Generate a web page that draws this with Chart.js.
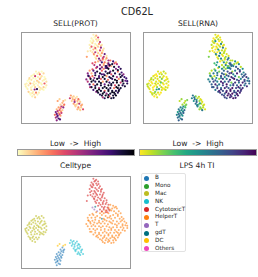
<!DOCTYPE html>
<html><head><meta charset="utf-8">
<script src="https://cdn.jsdelivr.net/npm/chart.js@4"></script>
<style>
body{margin:0;background:#fff;width:258px;height:277px;position:relative;overflow:hidden;font-family:"DejaVu Sans",sans-serif;color:#262626}
.t{position:absolute;transform:translate(-50%,-50%);white-space:pre;line-height:1}
.p{position:absolute}
.cb{position:absolute;box-sizing:border-box;border:1px solid #9a9a9a;height:7px}
#leg{position:absolute;left:141px;top:173px;width:45px;height:79px;box-sizing:border-box;border:1px solid #e2e2e2;border-radius:2px}
.li{position:absolute;left:0;font-size:5.7px;line-height:1;white-space:pre}
.dot{position:absolute;width:5px;height:5px;border-radius:50%}
</style></head><body>
<div class="t" style="left:137px;top:12px;font-size:9.7px">CD62L</div>
<div class="t" style="left:75.5px;top:23.5px;font-size:7.6px">SELL(PROT)</div>
<div class="t" style="left:198px;top:23.5px;font-size:7.6px">SELL(RNA)</div>
<div class="p" style="left:17px;top:28px;width:118px;height:100px"><canvas id="c1"></canvas></div>
<div class="p" style="left:139px;top:28px;width:118px;height:100px"><canvas id="c2"></canvas></div>
<div class="t" style="left:75.5px;top:144px;font-size:7.6px">Low  -&gt;  High</div>
<div class="t" style="left:198px;top:144px;font-size:7.6px">Low  -&gt;  High</div>
<div class="cb" id="cb1" style="left:17px;top:149px;width:118px"></div>
<div class="cb" id="cb2" style="left:139px;top:149px;width:118px"></div>
<div class="t" style="left:75.5px;top:165.5px;font-size:7.6px">Celltype</div>
<div class="t" style="left:197px;top:165.5px;font-size:7.6px">LPS 4h TI</div>
<div class="p" style="left:17px;top:172px;width:118px;height:101px"><canvas id="c3"></canvas></div>
<div id="leg"></div>
<script>
// ---- data: UMAP coordinates [x, y, SELL protein, SELL RNA] per cell type ----
const cellTypes = ["B","Mono","Mac","NK","CytotoxicT","HelperT","T","gdT","DC","Others"];
const typeColors = ["#1f77b4","#2ca02c","#bcbd22","#17becf","#d62728","#ff7f0e","#9467bd","#00707f","#ffbf00","#ee46bc"];

const bPts = [
[44,77,.15,.1],[46,79,.3,.2],[42,79,.1,.15],[43,81,.5,.5],[40,82,.2,.55],[45,82,.6,.3],[38,84,.15,.6],[41,85,.35,.5],[44,85,.1,.65],[37,87,.65,.45],[40,88,.2,.6],[43,88,.45,.7],[36,90,.3,.55],[39,91,.75,.6],[42,91,.2,.5],[37,93,.55,.65],[40,94,.8,.55],[38,96,.6,.7],
[45,80,.1,.2],[42,83,.3,.55],[39,86,.5,.6],[42.5,86.5,.2,.5],[38,89,.7,.65],[41,89.5,.4,.55],[38.5,92,.6,.6],[41.5,95,.75,.7]
];
const monoPts = [];
const macPts = [
[16,43,.02,.05],[19,44,.05,0],[22,43,0,.1],[24,45,.08,.05],[14,46,.03,0],[20,46,.3,.1],
[11,48,.02,.05],[15,48,.45,0],[18,49,.03,.15],[22,48,.06,.05],[25,49,0,0],[9,50,.08,.1],[13,50,.02,.05],[20,51,.15,.2],[26,51,.03,.05],
[7,53,0,0],[11,52,.05,.1],[14,54,.02,.05],[17,53,.1,0],[23,53,.03,.1],[27,54,.06,.05],[6,56,.02,.05],[10,56,.2,0],[13,56,.03,.1],[16,56,0,.05],[19,55,.08,.25],[22,57,.02,0],[25,56,.35,.05],
[5,59,.03,.1],[8,58,.06,.05],[12,59,0,0],[15,60,.1,.15],[18,58,.02,.05],[21,61,.04,0],[24,60,.1,.05],[7,62,.02,.05],[11,63,.06,0],[17,62,.85,.55],[20,63,.03,.05],[24,63,0,.1],[27,58,.04,0],
[8,65,.1,.05],[13,65,.02,.2],[16,66,.25,.05],[19,66,.03,0],[10,68,0,.1],[14,68,.06,.05],[12,70,.03,0],[15,71,.1,.05],
[17.5,45.5,.02,.05],[12.5,47,0,0],[21,49.5,.05,0],[8.5,51.5,.03,.1],[15.5,51,0,.05],[24.5,52,.02,0],[18.5,54,.06,.05],[9,54.5,0,0],[4.5,57,.03,.1],[21,55.5,0,.05],[14,57.5,.04,0],[26,60.5,0,.05],[10.5,60.5,.02,0],[19.5,60,.05,.1],[6,60.5,0,.05],[22.5,62,.03,0],[14.5,62.5,.6,.45],[9.5,66.5,0,.05],[17.5,68,.02,0],[12,66.5,.05,.1]
];
const nkPts = [
[53,69,.2,.6],[56,70,.1,.2],[52,72,.45,.55],[55,73,.15,.65],[58,72,.1,.1],[61,73,.3,.05],[54,75,.1,.5],[57,76,.55,.7],[60,75,.15,.15],[63,76,.1,.05],[56,78,.2,.6],[59,79,.1,.3],[62,78,.5,.1],[65,79,.15,.05],[58,81,.1,.55],[61,82,.25,.2],[64,82,.1,.1],[66,84,.4,.05],[60,84,.15,.15],[63,85,.1,.6],
[54.5,71,.1,.6],[59.5,70.5,.05,.1],[57,74,.3,.5],[62,74,.05,.05],[60.5,77.5,.1,.45],[64,80,.2,.1],[57.5,79.5,.1,.6],[62,83.5,.05,.15]
];
const ctPts = [
[77,3,.03,.05],[80,4,.15,0],[78,6,0,.1],[82,6,.4,.05],[75,7,.03,0],[80,8,.08,.15],
[74,10,0,.05],[77,10,.05,.5],[81,10,.03,0],[84,11,.5,.1],[76,12,.08,.05],[79,13,.02,0],[83,13,.2,.55],[86,14,.05,.05],[73,14,.03,.1],
[75,16,.35,0],[78,16,.03,.05],[82,16,.1,.1],[85,17,.6,.6],[88,18,.05,.05],[77,19,.15,0],[80,19,.03,.45],[84,20,.4,.1],[87,20,.1,.05],[71,21,.05,.1],
[76,22,.06,.05],[79,22,.5,0],[82,23,.1,.5],[86,23,.2,.1],[89,24,.7,.05],[78,25,.04,.1],[81,26,.35,.6],[85,26,.1,0],[88,27,.5,.15],[91,26,.05,.05],[70,27,.2,.2],
[80,29,.1,.1],[83,29,.65,.55],[87,30,.25,.05],[90,30,.1,.65],[93,31,.55,.1],[82,32,.15,0],[86,33,.8,.5],[89,33,.3,.15],[92,34,.15,.7],
[84,36,.6,.1],[88,36,.2,.55],[91,37,.85,.2],[94,37,.45,.6],[86,38,.15,.05],
[79,5,.02,0],[76.5,8.5,0,.05],[82.5,8.5,.05,0],[75,11.5,0,.1],[80.5,14.5,.03,.05],[85,15,.1,0],[73.5,17.5,.02,.05],[79,17.5,.35,0],[86.5,21.5,.05,.1],[81,20.5,0,.05],[74,20.5,.05,0],[77.5,24,.25,.55],[84,24.5,.05,.05],[87,28.5,.4,.1],[79,27.5,.02,0],[91,28.5,.2,.6],[84.5,31,.5,.1],[88,34.5,.15,.05],[93,35.5,.6,.7],[90,39,.7,.5]
];
const htPts = [
[95,31,.3,.1],[98,32,.8,.5],[101,33,.2,.05],[93,34,.7,.6],[97,35,.9,.15],[102,35,.5,.55],
[90,37,.85,.2],[96,37,.15,.6],[99,38,.9,.7],[104,38,.7,.1],[80,39,.4,.05],[84,40,.8,.55],[88,40,.25,.15],[93,40,.95,.65],[101,40,.6,.8],[106,40,.85,.5],
[73,42,.2,.1],[77,42,.75,.5],[81,43,.9,.2],[86,42,.35,.65],[90,43,.85,.75],[95,43,.7,.15],[98,42,.95,.6],[103,43,.3,.85],[107,44,.8,.55],[71,45,.6,.15],[75,45,.15,.6],[84,45,.9,.7],[88,46,.7,.1],[92,45,.95,.8],[96,46,.4,.55],[100,45,.85,.9],[105,46,.9,.65],[109,46,.6,.75],
[72,48,.85,.55],[76,48,.3,.1],[79,47,.9,.65],[83,48,.75,.8],[87,49,.95,.5],[91,48,.2,.7],[94,49,.85,.9],[98,48,.9,.6],[102,49,.55,.2],[106,49,.95,.75],[110,49,.8,.85],[74,51,.9,.65],[78,50,.6,.5],[81,51,.95,.15],[85,51,.35,.8],[89,51,.9,.6],[97,51,.8,.95],[100,52,.95,.7],[104,51,.25,.55],[108,52,.9,.8],[111,53,.7,.6],
[71,54,.5,.6],[75,54,.95,.8],[79,54,.85,.55],[83,54,.9,.9],[87,54,.2,.65],[91,54,.95,.75],[94,55,.8,.2],[98,55,.9,.85],[102,55,.95,.6],[106,55,.45,.9],[109,56,.9,.7],[113,56,.85,.65],[73,57,.8,.7],[77,57,.3,.9],[81,57,.95,.6],[85,58,.9,.8],[89,57,.7,.95],[93,58,.95,.55],[96,58,.9,.8],[100,58,.4,.7],[104,58,.95,.9],[108,58,.85,.6],
[75,60,.9,.75],[79,61,.95,.85],[83,61,.5,.6],[87,61,.9,.9],[91,61,.95,.7],[95,61,.85,.95],[99,61,.3,.8],[103,61,.95,.65],[106,61,.9,.85],[77,63,.8,.6],[81,64,.95,.9],[85,64,.9,.75],[89,64,.35,.85],[93,64,.95,.95],[97,64,.9,.7],[101,64,.85,.9],[104,64,.95,.8],
[82,66,.9,.85],[87,67,.95,.7],[91,67,.6,.9],[95,67,.9,.95],[99,66,.95,.75],[103,66,.85,.9],[86,69,.9,.8],[90,69,.95,.95],[94,70,.4,.85],[98,69,.9,.7],[101,69,.95,.9],[89,72,.85,.75],[96,72,.9,.95],
[99.5,34,.4,.1],[94.5,36,.9,.6],[86,38.5,.6,.2],[91.5,39,.85,.55],[103,41.5,.9,.65],[79,44.5,.8,.6],[94,44.5,.95,.85],[107.5,47.5,.85,.7],[89,47,.9,.75],[73.5,49.5,.4,.15],[95.5,50,.9,.8],[83,50,.85,.6],[102,53,.95,.85],[77,52.5,.9,.7],[92.5,52,.3,.9],[112,50.5,.8,.6],[69.5,51.5,.6,.55],[85,55.5,.95,.9],[96,56.5,.9,.75],[110.5,59,.9,.85],[79,58.5,.85,.65],[101.5,60,.95,.9],[89,59.5,.95,.8],[73.5,60,.5,.7],[93,62.5,.9,.95],[83,62.5,.95,.85],[104.5,62.5,.85,.9],[97,65.5,.95,.8],[88.5,65.5,.9,.95],[80,65,.6,.7],[93,68.5,.95,.9],[84,68,.85,.75],[100,67.5,.9,.95],[92.5,71,.95,.85],[98.5,71.5,.9,.9],[87,71,.5,.8],[108,53.5,.95,.75],[113,53.5,.8,.7],[71.5,47.5,.7,.5],[76,40.5,.35,.2]
];
const tPts = [[78,36,.5,.4],[81,38,.6,.5],[76,34,.4,.3]];
const gdtPts = [[86,46,.8,.7],[79,33,.3,.5]];
const dcPts = [[41,73,.1,.15],[45,75,.15,.1],[47,74,.05,.2],[39,75,.2,.1]];
const othersPts = [[92,39,.5,.5]];
const groups = [bPts, monoPts, macPts, nkPts, ctPts, htPts, tPts, gdtPts, dcPts, othersPts];

// ---- colormaps (style) ----
const magmaR = ["#fcfdbf","#fecf92","#fe9f6d","#f7705c","#de4968","#b73779","#8c2981","#641a80","#3b0f70","#140e36","#000004"];
const viridisR = ["#fde725","#bddf26","#7ad151","#44bf70","#22a884","#21918c","#2a788e","#355f8d","#414487","#482475","#440154"];
function hex(h){return [1,3,5].map(i=>parseInt(h.substr(i,2),16));}
function cmap(stops,v){v=Math.max(0,Math.min(1,v));const f=v*(stops.length-1);const i=Math.min(stops.length-2,Math.floor(f));const t=f-i;const a=hex(stops[i]),b=hex(stops[i+1]);return 'rgb('+a.map((c,k)=>Math.round(c+(b[k]-c)*t)).join(',')+')';}
document.getElementById('cb1').style.background='linear-gradient(to right,'+magmaR.join(',')+')';
document.getElementById('cb2').style.background='linear-gradient(to right,'+viridisR.join(',')+')';

const frame={id:'frame',afterDraw(c){const a=c.chartArea,x=c.ctx;x.save();x.strokeStyle='#9a9a9a';x.lineWidth=1;x.strokeRect(a.left+0.5,a.top+0.5,a.width-1,a.height-1);x.restore();}};
function opts(){return {responsive:true,maintainAspectRatio:false,animation:false,events:[],layout:{padding:0},
 plugins:{legend:{display:false},tooltip:{enabled:false}},
 scales:{x:{display:false,min:0,max:117},y:{display:false,min:0,max:100,reverse:true}}};}

const all = groups.flat();
function valueChart(id, idx, stops){
  const pts = all.slice().sort((p,q)=>p[idx]-q[idx]);
  new Chart(document.getElementById(id),{type:'scatter',
    data:{datasets:[{data:pts.map(p=>({x:p[0],y:p[1]})),backgroundColor:pts.map(p=>cmap(stops,p[idx])),pointRadius:1.1,borderWidth:0}]},
    options:opts(),plugins:[frame]});
}
valueChart('c1',2,magmaR);
valueChart('c2',3,viridisR);

new Chart(document.getElementById('c3'),{type:'scatter',
  data:{datasets:groups.map((g,i)=>({label:cellTypes[i],data:g.map(p=>({x:p[0],y:p[1]})),backgroundColor:typeColors[i]+'99',pointRadius:1.0,borderWidth:0}))},
  options:opts(),plugins:[frame]});

const leg=document.getElementById('leg');
cellTypes.forEach((n,i)=>{const y=4.3+i*7.82;
  leg.insertAdjacentHTML('beforeend','<div class="dot" style="left:1.5px;top:'+(y-2.5)+'px;background:'+typeColors[i]+'"></div><div class="li" style="left:13px;top:'+(y-3)+'px">'+n+'</div>');});
</script>
</body></html>
